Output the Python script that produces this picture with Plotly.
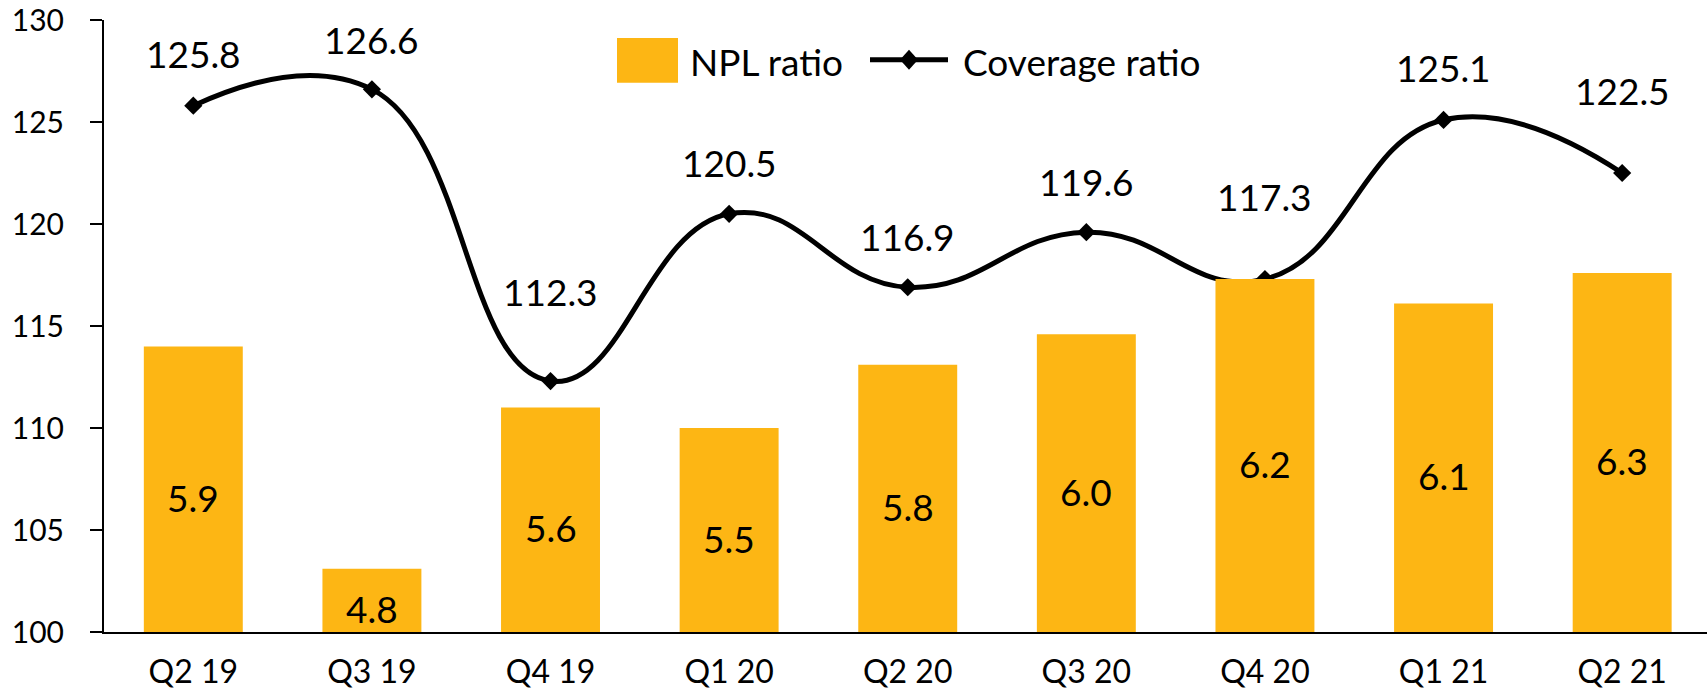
import plotly.graph_objects as go

# ---- data ----
quarters = ["Q2 19", "Q3 19", "Q4 19", "Q1 20", "Q2 20", "Q3 20", "Q4 20", "Q1 21", "Q2 21"]
npl_ratio = [5.90, 4.81, 5.60, 5.50, 5.81, 5.96, 6.23, 6.11, 6.26]
coverage_ratio = [125.8, 126.6, 112.3, 120.5, 116.9, 119.6, 117.3, 125.1, 122.5]
y_ticks = [100, 105, 110, 115, 120, 125, 130]

# ---- style ----
FONT = "Lato, 'Open Sans', sans-serif"
BAR_COLOR = "#FDB614"
Y2_MIN, Y2_MAX = 4.5, 7.5
label_shift_px = [52, 50, 90, 51, 51, 51, 83, 52, 83]
LABEL_SIZE = 37

fig = go.Figure()

fig.add_trace(go.Bar(
    x=quarters, y=[v - Y2_MIN for v in npl_ratio], base=Y2_MIN,
    name="NPL ratio", yaxis="y2",
    marker=dict(color=BAR_COLOR, line=dict(width=0)),
    showlegend=False, hoverinfo="skip",
))

fig.add_trace(go.Scatter(
    x=quarters, y=coverage_ratio, name="Coverage ratio", yaxis="y",
    mode="lines+markers",
    line=dict(color="black", width=5, shape="spline", smoothing=1.3),
    marker=dict(symbol="diamond", size=14, color="black"),
    showlegend=False, hoverinfo="skip",
))

annotations = []
# bar value labels (centred in the bars)
for q, v in zip(quarters, npl_ratio):
    annotations.append(dict(
        x=q, y=(Y2_MIN + v) / 2, xref="x", yref="y2", text=f"{v:.1f}", showarrow=False,
        yshift=-8, font=dict(family=FONT, size=LABEL_SIZE, color="black"),
        xanchor="center", yanchor="middle",
    ))
# line value labels
for q, v, s in zip(quarters, coverage_ratio, label_shift_px):
    annotations.append(dict(
        x=q, y=v, xref="x", yref="y", text=f"{v:.1f}", showarrow=False,
        yshift=s, font=dict(family=FONT, size=LABEL_SIZE, color="black"),
        xanchor="center", yanchor="middle",
    ))

W, H = 1707, 690
L, R, T, B = 104, 0, 20, 55
pw, ph = W - L - R, H - T - B

def px_x(x):
    return (x - L) / pw

def px_y(y):
    return (H - B - y) / ph

# manual legend (paper coordinates)
annotations.append(dict(x=px_x(688), y=px_y(62), xref="paper", yref="paper", text="NPL ratio",
                        showarrow=False, xanchor="left", yanchor="middle",
                        font=dict(family=FONT, size=37, color="black")))
annotations.append(dict(x=px_x(961), y=px_y(62), xref="paper", yref="paper", text="Coverage ratio",
                        showarrow=False, xanchor="left", yanchor="middle",
                        font=dict(family=FONT, size=37, color="black")))

shapes = [
    dict(type="rect", xref="paper", yref="paper",
         x0=px_x(617), x1=px_x(678), y0=px_y(83), y1=px_y(38),
         fillcolor=BAR_COLOR, line=dict(width=0)),
    dict(type="line", xref="paper", yref="paper",
         x0=px_x(870), x1=px_x(948), y0=px_y(60), y1=px_y(60),
         line=dict(color="black", width=5)),
    dict(type="path", xref="paper", yref="paper",
         path=f"M {px_x(900)} {px_y(60)} L {px_x(909)} {px_y(50)} L {px_x(918)} {px_y(60)} L {px_x(909)} {px_y(70)} Z",
         fillcolor="black", line=dict(width=0)),
]

fig.update_layout(
    width=W, height=H,
    margin=dict(l=L, r=R, t=T, b=B, pad=0),
    plot_bgcolor="white", paper_bgcolor="white",
    font=dict(family=FONT, size=30, color="black"),
    bargap=0.446,
    showlegend=False,
    annotations=annotations,
    shapes=shapes,
    xaxis=dict(
        type="category", range=[-0.5, 8.475],
        showline=True, linecolor="black", linewidth=2,
        ticks="", showgrid=False, zeroline=False,
        tickfont=dict(family=FONT, size=32, color="black"),
        ticklabelstandoff=11,
    ),
    yaxis=dict(
        range=[100, 130], tickvals=y_ticks,
        showline=True, linecolor="black", linewidth=2,
        ticks="outside", ticklen=12, tickwidth=2, tickcolor="black",
        showgrid=False, zeroline=False,
        tickfont=dict(family=FONT, size=30, color="black"),
        ticklabelstandoff=20,
    ),
    yaxis2=dict(
        range=[Y2_MIN, Y2_MAX], overlaying="y", side="right", visible=False,
        showgrid=False, zeroline=False,
    ),
)

fig.write_html(
    "out.html",
    config={"displayModeBar": False},
    post_script="document.body.style.margin='0px';document.body.style.overflow='hidden';",
)
